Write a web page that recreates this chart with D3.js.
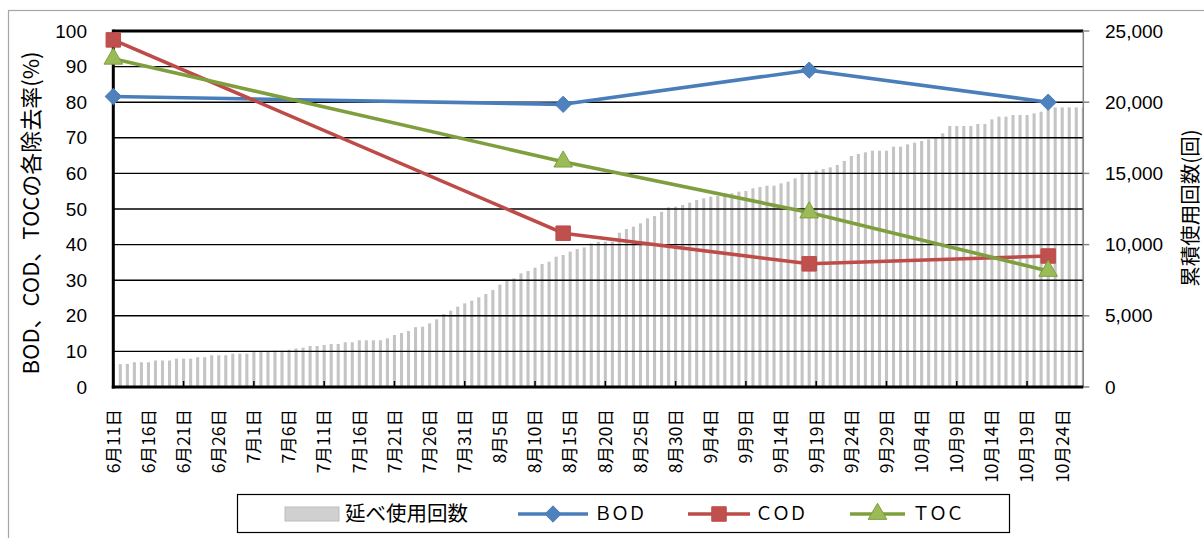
<!DOCTYPE html>
<html><head><meta charset="utf-8">
<script src="https://cdn.jsdelivr.net/npm/d3@7"></script>
<style>body{margin:0;background:#fff;} svg{display:block;}</style>
</head><body><svg id="c" width="1204" height="538"></svg>
<script>
// ---- data ----
const firstDay = {month: 6, day: 11};
const dayCount = 139;
const cumulativeUses = [
 1600,1600,1620,1740,1740,1740,1860,1860,1860,1990,
 1990,1990,2090,2090,2230,2230,2230,2340,2340,2340,
 2460,2460,2460,2550,2550,2620,2700,2760,2880,2880,
 2950,3020,3020,3140,3140,3280,3280,3280,3280,3420,
 3650,3790,3930,4200,4234,4470,4750,5126,5360,5640,
 5875,6062,6296,6530,6811,7186,7513,7630,7982,8145,
 8380,8637,8801,9152,9269,9503,9690,9807,10088,10205,
 10205,10205,10837,11095,11259,11492,11843,12004,12300,12616,
 12663,12780,12944,13131,13248,13366,13413,13600,13600,13717,
 13763,13951,14040,14138,14138,14302,14419,14653,15051,15051,
 15191,15308,15425,15589,15870,16221,16361,16478,16596,16595,
 16595,16876,16876,17040,17157,17274,17391,17508,17812,18327,
 18327,18327,18327,18468,18468,18795,18983,18983,19100,19100,
 19100,19217,19334,19498,19638,19638,19638,19638,19638
];
const sampleDates = ["6月11日", "8月14日", "9月18日", "10月22日"];
const bodRemoval = [81.6, 79.4, 89.0, 80.0];
const codRemoval = [97.5, 43.2, 34.6, 36.8];
const tocRemoval = [92.2, 63.3, 49.0, 32.6];
const leftTicks = [0, 10, 20, 30, 40, 50, 60, 70, 80, 90, 100];
const rightTicks = [0, 5000, 10000, 15000, 20000, 25000];
const labelEvery = 5;
const tickEvery = 10;
const leftTitle = "BOD、COD、TOCの各除去率(%)";
const rightTitle = "累積使用回数(回)";
const legendLabels = ["延べ使用回数", "ＢＯＤ", "ＣＯＤ", "ＴＯＣ"];

// ---- categories ----
const monthLen = {6: 30, 7: 31, 8: 31, 9: 30, 10: 31};
const categories = [];
{ let m = firstDay.month, d = firstDay.day;
  for (let i = 0; i < dayCount; i++) {
    categories.push(`${m}月${d}日`);
    d++; if (d > monthLen[m]) { m++; d = 1; }
  } }

// ---- layout ----
const L = 113.3, R = 1083.3, T = 31, B = 387;
const svg = d3.select("#c");
const FONT = "'Liberation Sans', Arial, sans-serif";
const JFONT = "'Noto Sans CJK JP', 'Liberation Sans', sans-serif";

svg.append("rect").attr("x", 0).attr("y", 0).attr("width", 1204).attr("height", 538).attr("fill", "#fff");
svg.append("rect").attr("x", 8.5).attr("y", 10.5).attr("width", 1300).attr("height", 600)
  .attr("fill", "none").attr("stroke", "#a6a6a6").attr("stroke-width", 1.2);

const x = d3.scalePoint().domain(categories).range([L, R]).padding(0);
const yL = d3.scaleLinear().domain([0, 100]).range([B, T]);
const yR = d3.scaleLinear().domain([0, 25000]).range([B, T]);
const step = x.step();

// bars
svg.append("clipPath").attr("id", "pc").append("rect")
  .attr("x", L).attr("y", T - 20).attr("width", R - L).attr("height", B - T + 20);
svg.append("g").attr("clip-path", "url(#pc)").selectAll("rect").data(categories).join("rect")
  .attr("x", (d) => x(d) - step * 0.22)
  .attr("width", step * 0.44)
  .attr("y", (d, i) => yR(cumulativeUses[i]))
  .attr("height", (d, i) => B - yR(cumulativeUses[i]))
  .attr("fill", "#c4c4c4");

// gridlines
svg.append("g").selectAll("line").data(leftTicks.filter(v => v > 0 && v < 100)).join("line")
  .attr("x1", L).attr("x2", R).attr("y1", d => yL(d)).attr("y2", d => yL(d))
  .attr("stroke", "#000").attr("stroke-width", 1.4);
// top border
svg.append("line").attr("x1", L).attr("x2", R).attr("y1", yL(100)).attr("y2", yL(100))
  .attr("stroke", "#000").attr("stroke-width", 3);
// right axis
svg.append("line").attr("x1", R).attr("x2", R).attr("y1", T).attr("y2", B)
  .attr("stroke", "#868686").attr("stroke-width", 1.5);
svg.append("g").selectAll("line").data(rightTicks).join("line")
  .attr("x1", R).attr("x2", R + 6).attr("y1", d => yR(d)).attr("y2", d => yR(d))
  .attr("stroke", "#868686").attr("stroke-width", 1.5);
// left axis
svg.append("line").attr("x1", L).attr("x2", L).attr("y1", T - 1.5).attr("y2", B + 1.5)
  .attr("stroke", "#000").attr("stroke-width", 3);
// bottom axis
svg.append("line").attr("x1", L - 1.5).attr("x2", R).attr("y1", B).attr("y2", B)
  .attr("stroke", "#000").attr("stroke-width", 3);
// x tick marks (inside, every 10 days)
svg.append("g").selectAll("line").data(categories.filter((d, i) => i > 0 && i % tickEvery === 0)).join("line")
  .attr("x1", d => x(d)).attr("x2", d => x(d)).attr("y1", B).attr("y2", B - 6)
  .attr("stroke", "#000").attr("stroke-width", 1.5);

// left tick labels
svg.append("g").selectAll("text").data(leftTicks).join("text")
  .attr("x", 87).attr("y", d => yL(d)).attr("dy", "0.35em")
  .attr("text-anchor", "end").attr("font-family", FONT).attr("font-size", 19).attr("fill", "#000")
  .text(d => d);
// right tick labels
svg.append("g").selectAll("text").data(rightTicks).join("text")
  .attr("x", 1105).attr("y", d => yR(d)).attr("dy", "0.35em")
  .attr("text-anchor", "start").attr("font-family", FONT).attr("font-size", 19).attr("fill", "#000")
  .text(d => d3.format(",")(d));
// x labels
svg.append("g").selectAll("text").data(categories.filter((d, i) => i % labelEvery === 0)).join("text")
  .attr("transform", d => `translate(${x(d)},${409}) rotate(-90)`)
  .attr("dy", "0.36em").attr("text-anchor", "end")
  .attr("font-family", JFONT).attr("font-size", 17.5).attr("fill", "#000")
  .text(d => d);
// axis titles
svg.append("text").attr("transform", `translate(31,${(T + B) / 2 + 4}) rotate(-90)`)
  .attr("text-anchor", "middle").attr("dy", "0.36em")
  .attr("font-family", JFONT).attr("font-size", 22).attr("fill", "#000").text(leftTitle);
svg.append("text").attr("transform", `translate(1191,${208}) rotate(-90)`)
  .attr("text-anchor", "middle").attr("dy", "0.36em")
  .attr("font-family", JFONT).attr("font-size", 20.5).attr("fill", "#000").text(rightTitle);

// series
const series = [
  {name: legendLabels[1], values: bodRemoval, line: "#4A7EBB", fill: "#4F81BD", shape: "diamond"},
  {name: legendLabels[2], values: codRemoval, line: "#BE4B48", fill: "#C0504D", shape: "square"},
  {name: legendLabels[3], values: tocRemoval, line: "#7F9F3E", fill: "#9BBB59", shape: "triangle"}
];
const sym = {
  diamond: d3.symbol().type(d3.symbolDiamond2).size(170),
  square: d3.symbol().type(d3.symbolSquare).size(210),
  triangle: d3.symbol().type(d3.symbolTriangle).size(150)
};
const lineGen = d3.line().x(d => x(d[0])).y(d => yL(d[1]));
series.forEach(s => {
  const pts = sampleDates.map((d, i) => [d, s.values[i]]);
  svg.append("path").attr("d", lineGen(pts)).attr("fill", "none")
    .attr("stroke", s.line).attr("stroke-width", 3.6).attr("stroke-linejoin", "round");
  svg.append("g").selectAll("path").data(pts).join("path")
    .attr("transform", d => `translate(${x(d[0])},${yL(d[1])})`)
    .attr("d", sym[s.shape]())
    .attr("fill", s.fill).attr("stroke", s.line).attr("stroke-width", 1);
});

// legend
const lg = svg.append("g");
lg.append("rect").attr("x", 237.5).attr("y", 494.5).attr("width", 772).attr("height", 38)
  .attr("fill", "#fff").attr("stroke", "#000").attr("stroke-width", 1.2);
const ly = 514;
lg.append("rect").attr("x", 285).attr("y", ly - 7).attr("width", 54).attr("height", 14)
  .attr("fill", "#d0d0d0").attr("stroke", "#bdbdbd");
lg.append("text").attr("x", 345).attr("y", ly).attr("dy", "0.36em")
  .attr("font-family", JFONT).attr("font-size", 20.5).text(legendLabels[0]);
const legPos = [[518, 588, 594], [688, 750, 755], [850, 905, 912]];
series.forEach((s, i) => {
  const [a, b, t] = legPos[i];
  lg.append("line").attr("x1", a).attr("x2", b).attr("y1", ly).attr("y2", ly)
    .attr("stroke", s.line).attr("stroke-width", 3.6);
  lg.append("path").attr("transform", `translate(${(a + b) / 2},${ly})`).attr("d", sym[s.shape]())
    .attr("fill", s.fill).attr("stroke", s.line).attr("stroke-width", 1);
  lg.append("text").attr("x", t).attr("y", ly).attr("dy", "0.36em")
    .attr("font-family", JFONT).attr("font-size", 18).attr("letter-spacing", -1).text(s.name);
});
</script></body></html>
